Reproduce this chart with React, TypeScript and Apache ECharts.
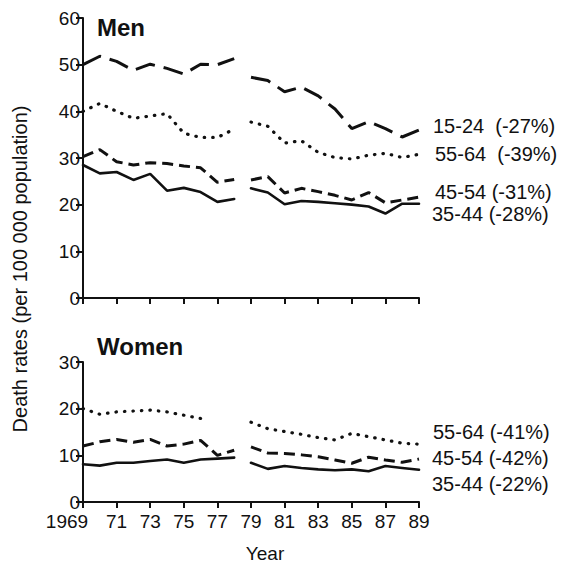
import React, { useEffect, useRef } from 'react';
import * as echarts from 'echarts';

const years = ['1969', '1970', '1971', '1972', '1973', '1974', '1975', '1976', '1977', '1978', '1979', '1980', '1981', '1982', '1983', '1984', '1985', '1986', '1987', '1988', '1989'];

// 1969-1978 (first period) and 1979-1989 (second period)
const men1524A = [50.0, 51.8, 50.7, 48.8, 50.1, 49.2, 48.0, 50.1, 50.0, 51.3];
const men1524B = [47.3, 46.6, 44.2, 45.2, 43.3, 40.5, 36.3, 37.8, 36.3, 34.5, 36.0];
const men5564A = [40.0, 41.7, 40.0, 38.5, 39.0, 39.5, 35.3, 34.4, 34.4, 36.2];
const men5564B = [37.7, 36.8, 33.2, 33.7, 31.2, 30.1, 29.8, 30.6, 31.0, 30.1, 30.8];
const men4554A = [30.3, 31.8, 29.2, 28.5, 29.0, 28.8, 28.3, 27.9, 24.8, 25.4];
const men4554B = [25.3, 26.0, 22.5, 23.5, 22.8, 22.0, 21.0, 22.6, 20.4, 21.0, 21.6];
const men3544A = [28.5, 26.7, 27.0, 25.3, 26.6, 23.0, 23.6, 22.7, 20.6, 21.2];
const men3544B = [23.5, 22.6, 20.1, 20.8, 20.6, 20.3, 20.0, 19.6, 18.1, 20.2, 20.2];

const women5564A = [20.0, 18.8, 19.3, 19.5, 19.7, 19.3, 18.6, 17.9, null, null];
const women5564B = [17.1, 15.7, 15.1, 14.5, 13.8, 13.3, 14.7, 14.0, 13.3, 12.6, 12.4];
const women4554A = [12.0, 12.9, 13.4, 12.8, 13.4, 12.0, 12.4, 13.2, 10.0, 11.1];
const women4554B = [11.8, 10.5, 10.4, 10.1, 9.7, 9.0, 8.3, 9.6, 9.0, 8.5, 9.2];
const women3544A = [8.1, 7.8, 8.4, 8.4, 8.8, 9.1, 8.4, 9.1, 9.3, 9.5];
const women3544B = [8.4, 7.1, 7.7, 7.3, 7.0, 6.8, 7.0, 6.6, 7.7, 7.3, 6.9];

const menLabels = ['15-24  (-27%)', '55-64  (-39%)', '45-54 (-31%)', '35-44 (-28%)'];
const womenLabels = ['55-64 (-41%)', '45-54 (-42%)', '35-44 (-22%)'];

const FONT = 'Liberation Sans, Arial, Helvetica, sans-serif';

const padA = (a: (number | null)[]) => [...a, ...new Array(years.length - a.length).fill(null)];
const padB = (b: (number | null)[]) => [...new Array(years.length - b.length).fill(null), ...b];

const styles: Record<string, any> = {
  long: { type: [20, 9], width: 3, cap: 'butt' },
  medium: { type: [11, 6], width: 3, cap: 'butt' },
  dotted: { type: [0.5, 8], width: 3.2, cap: 'round' },
  solid: { type: 'solid', width: 2.6, cap: 'round' },
};

function mk(name: string, data: (number | null)[], style: string, gi: number) {
  return {
    name,
    type: 'line',
    xAxisIndex: gi,
    yAxisIndex: gi,
    data,
    connectNulls: false,
    showSymbol: false,
    symbol: 'none',
    lineStyle: { color: '#111', ...styles[style] },
    silent: true,
  };
}

export default function App() {
  const ref = useRef<HTMLDivElement>(null);
  useEffect(() => {
    document.body.style.margin = '0';
    const chart = echarts.init(ref.current!, null, { renderer: 'svg' });
    const axisLineStyle = { color: '#111', width: 2 };
    const xAxisBase = {
      type: 'category',
      data: years,
      boundaryGap: false,
      axisLine: { show: true, lineStyle: axisLineStyle },
      axisTick: { show: true, interval: 1, length: 6, inside: false, lineStyle: axisLineStyle },
      splitLine: { show: false },
    };
    const yAxisBase = {
      type: 'value',
      interval: 10,
      axisLine: { show: true, lineStyle: axisLineStyle },
      axisTick: { show: true, length: 7, inside: false, lineStyle: axisLineStyle },
      axisLabel: { color: '#111', fontSize: 19, fontFamily: FONT, margin: 3 },
      splitLine: { show: false },
    };
    const labelText = (text: string, x: number, y: number, size = 20, bold = false) => ({
      type: 'text',
      x,
      y,
      silent: true,
      style: {
        text,
        fill: '#111',
        font: `${bold ? 'bold ' : ''}${size}px ${FONT}`,
        textAlign: 'left',
        textVerticalAlign: 'middle',
      },
    });
    const option: any = {
      animation: false,
      backgroundColor: '#fff',
      grid: [
        { left: 83, top: 18, width: 336, height: 280 },
        { left: 83, top: 362, width: 336, height: 140 },
      ],
      xAxis: [
        { ...xAxisBase, gridIndex: 0, axisLabel: { show: false } },
        {
          ...xAxisBase,
          gridIndex: 1,
          axisLabel: {
            show: true,
            interval: 1,
            color: '#111',
            fontSize: 19,
            fontFamily: FONT,
            margin: 10,
            formatter: (v: string, i: number) => (i === 0 ? `{first|${v}}` : v.slice(2)),
            rich: {
              first: { fontSize: 19, fontFamily: FONT, color: '#111', padding: [0, 32, 0, 0] },
            },
          },
        },
      ],
      yAxis: [
        { ...yAxisBase, gridIndex: 0, min: 0, max: 60 },
        { ...yAxisBase, gridIndex: 1, min: 0, max: 30 },
      ],
      series: [
        mk('Men 15-24 a', padA(men1524A), 'long', 0),
        mk('Men 15-24 b', padB(men1524B), 'long', 0),
        mk('Men 55-64 a', padA(men5564A), 'dotted', 0),
        mk('Men 55-64 b', padB(men5564B), 'dotted', 0),
        mk('Men 45-54 a', padA(men4554A), 'medium', 0),
        mk('Men 45-54 b', padB(men4554B), 'medium', 0),
        mk('Men 35-44 a', padA(men3544A), 'solid', 0),
        mk('Men 35-44 b', padB(men3544B), 'solid', 0),
        mk('Women 55-64 a', padA(women5564A), 'dotted', 1),
        mk('Women 55-64 b', padB(women5564B), 'dotted', 1),
        mk('Women 45-54 a', padA(women4554A), 'medium', 1),
        mk('Women 45-54 b', padB(women4554B), 'medium', 1),
        mk('Women 35-44 a', padA(women3544A), 'solid', 1),
        mk('Women 35-44 b', padB(women3544B), 'solid', 1),
      ],
      graphic: [
        labelText('Men', 97, 27, 24, true),
        labelText('Women', 97, 346, 24, true),
        labelText(menLabels[0], 433, 126),
        labelText(menLabels[1], 435, 154),
        labelText(menLabels[2], 435, 192),
        labelText(menLabels[3], 432, 214),
        labelText(womenLabels[0], 433, 432),
        labelText(womenLabels[1], 432, 458),
        labelText(womenLabels[2], 432, 484),
        {
          type: 'text',
          x: 265,
          y: 553,
          silent: true,
          style: { text: 'Year', fill: '#111', font: `19px ${FONT}`, textAlign: 'center', textVerticalAlign: 'middle' },
        },
        {
          type: 'text',
          x: 20,
          y: 269,
          rotation: Math.PI / 2,
          silent: true,
          style: {
            text: 'Death rates (per 100 000 population)',
            fill: '#111',
            font: `20px ${FONT}`,
            textAlign: 'center',
            textVerticalAlign: 'middle',
          },
        },
      ],
    };
    chart.setOption(option);
    return () => chart.dispose();
  }, []);
  return <div ref={ref} style={{ position: 'fixed', left: 0, top: 0, width: 568, height: 568 }} />;
}
